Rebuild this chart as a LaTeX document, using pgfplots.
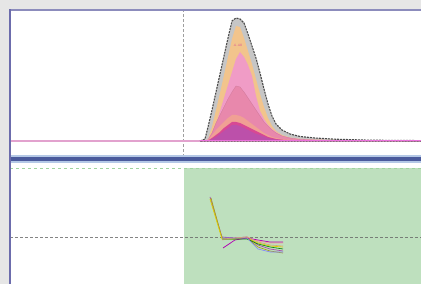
\documentclass[border=0pt]{standalone}
\usepackage{pgfplots}
\pgfplotsset{compat=1.18}
\usepackage{pgfplotstable}
\definecolor{bgray}{HTML}{E6E6E6}
\definecolor{bordr}{HTML}{6C6CAC}
\definecolor{bordt}{HTML}{8C8CBC}
\definecolor{bandd}{HTML}{4A5A9C}
\definecolor{bandl}{HTML}{B4C8E6}
\definecolor{greenf}{HTML}{BEE0BE}
\definecolor{greenl}{HTML}{A0D4A0}
\definecolor{pinkl}{HTML}{E2A2CE}
\definecolor{cgray}{HTML}{C6C6C6}
\definecolor{ctan}{HTML}{F2C48C}
\definecolor{cpink}{HTML}{F09CC6}
\definecolor{crose}{HTML}{E888AC}
\definecolor{csalm}{HTML}{F0A094}
\definecolor{cmag}{HTML}{D84894}
\definecolor{cpurp}{HTML}{BC50AA}
% stacked area, cumulative heights above baseline
\pgfplotstableread{
x   gray  tan   pink  rose  salm  mag   purp
200 0     0     0     0     0     0     0
205 2     0.3   0     0     0     0     0
208 14    2     2     1     1     0.5   0.3
212 31    14    8     8     6     3     2
216 49    31    17    18    11    6     4
220 67    48    30    26    15    9     7
224 85    66    43    34    19    13    10
228 103   84    56    42    23    16    13
232 120   102   69    49    26    19    16
236 123   115   82    55    26    19    16
240 122   114   89    54    25    18    15
244 118   103   84    49    23    16    13
248 107   90    76    43    20    14    11
252 95    77    65    37    17    12    9
256 83    62    45    31    14    10    7
260 68    47    30    25    11    8     6
264 52    34    22    19    8     6     4.5
268 37    23    16    15    6     4     3
272 25    15    12    11    4     3     2
276 17    10    9     8     3     2     1.5
282 11    6     5     5     2     1.3   1
290 7     3.5   3     3     1.2   0.8   0.6
300 4.5   2.2   2     1.5   0.8   0.5   0.4
315 3     1.4   1.2   1     0.5   0.3   0.2
335 1.8   1     0.8   0.6   0.3   0.2   0.1
370 0.8   0.5   0.4   0.3   0.2   0.1   0
421 0.4   0.3   0.2   0.1   0.1   0     0
460 0.3   0.2   0.1   0.1   0     0     0
}\areatab
\begin{document}
\begin{tikzpicture}[x=1pt,y=1pt]
\useasboundingbox (0,0) rectangle (421,284);
\clip (0,0) rectangle (421,284);
\fill[bgray] (0,0) rectangle (421,284);
\fill[white] (10,0) rectangle (430,274);
% ---------- top panel ----------
\begin{axis}[
  at={(10pt,127pt)}, anchor=south west,
  scale only axis, width=440pt, height=147pt,
  xmin=10, xmax=450, ymin=-16, ymax=131,
  axis lines=none, clip=true]
\draw[gray!75, densely dashed, line width=0.8pt] (axis cs:183,-16) -- (axis cs:183,131);
\draw[pinkl, line width=1.5pt] (axis cs:10,0) -- (axis cs:450,0);
\addplot[fill=cgray, draw=gray!60!black, dash pattern=on 2pt off 1pt, line width=1.1pt] table[x=x,y=gray]{\areatab} \closedcycle;
\addplot[fill=ctan, draw=none] table[x=x,y=tan]{\areatab} \closedcycle;
\addplot[fill=cpink, draw=none] table[x=x,y=pink]{\areatab} \closedcycle;
\addplot[fill=crose, draw=crose!90!black, line width=0.3pt] table[x=x,y=rose]{\areatab} \closedcycle;
\addplot[fill=csalm, draw=none] table[x=x,y=salm]{\areatab} \closedcycle;
\addplot[fill=cmag, draw=none] table[x=x,y=mag]{\areatab} \closedcycle;
\addplot[fill=cpurp, draw=none] table[x=x,y=purp]{\areatab} \closedcycle;
\draw[pinkl!70!magenta, line width=1pt] (axis cs:200,0) -- (axis cs:450,0);
\node[text=cmag, font=\fontsize{3.5}{4}\selectfont, inner sep=0pt] at (axis cs:238,96) {4.40};
\end{axis}
% ---------- bottom panel ----------
\begin{axis}[
  at={(10pt,-16pt)}, anchor=south west,
  scale only axis, width=440pt, height=138pt,
  xmin=10, xmax=450, ymin=-63, ymax=75,
  axis lines=none, clip=true]
\fill[greenf] (axis cs:184,-63) rectangle (axis cs:450,69);
\draw[greenl, dashed, line width=0.8pt] (axis cs:10,69) -- (axis cs:450,69);
\draw[gray!80!black, densely dashed, line width=0.7pt, opacity=0.8] (axis cs:10,0) -- (axis cs:450,0);
\addplot[color=violet!70, line width=0.7pt] coordinates {(210,40) (222,0) (234,-1) (247,0) (258,-8) (270,-12) (283,-14)};
\addplot[color=olive!80, line width=0.7pt] coordinates {(211,39) (222,-1) (234,-2) (247,-1) (258,-10) (270,-14) (283,-16)};
\addplot[color=yellow!70!olive, line width=0.7pt] coordinates {(210,38) (222,-2) (234,-2) (247,-1) (258,-6) (270,-9) (283,-10)};
\addplot[color=pink!80!red, line width=0.6pt] coordinates {(222,-3) (234,-1) (247,0) (258,-4) (270,-6) (283,-6)};
\addplot[color=violet!60!magenta, line width=0.7pt] coordinates {(223,-11) (235,-3) (247,-1) (258,-3) (270,-5) (283,-5)};
\addplot[color=green!50!black, line width=0.6pt] coordinates {(222,-2) (234,-2) (247,-2) (258,-7) (270,-10) (283,-12)};
\addplot[color=blue!50, line width=0.6pt] coordinates {(222,-1) (234,-1) (247,-1) (258,-12) (270,-15) (283,-15)};
\addplot[color=brown!70, line width=0.6pt] coordinates {(222,-2) (234,-1) (247,0) (258,-5) (270,-8) (283,-9)};
\end{axis}
% ---------- borders ----------
\fill[bandl] (10,121) rectangle (430,129);
\fill[bandd] (10,123) rectangle (430,126.7);
\draw[bordt, line width=2.2pt] (10,274) -- (430,274);
\draw[bordr, line width=2pt] (10,0) -- (10,275);
\end{tikzpicture}
\end{document}
